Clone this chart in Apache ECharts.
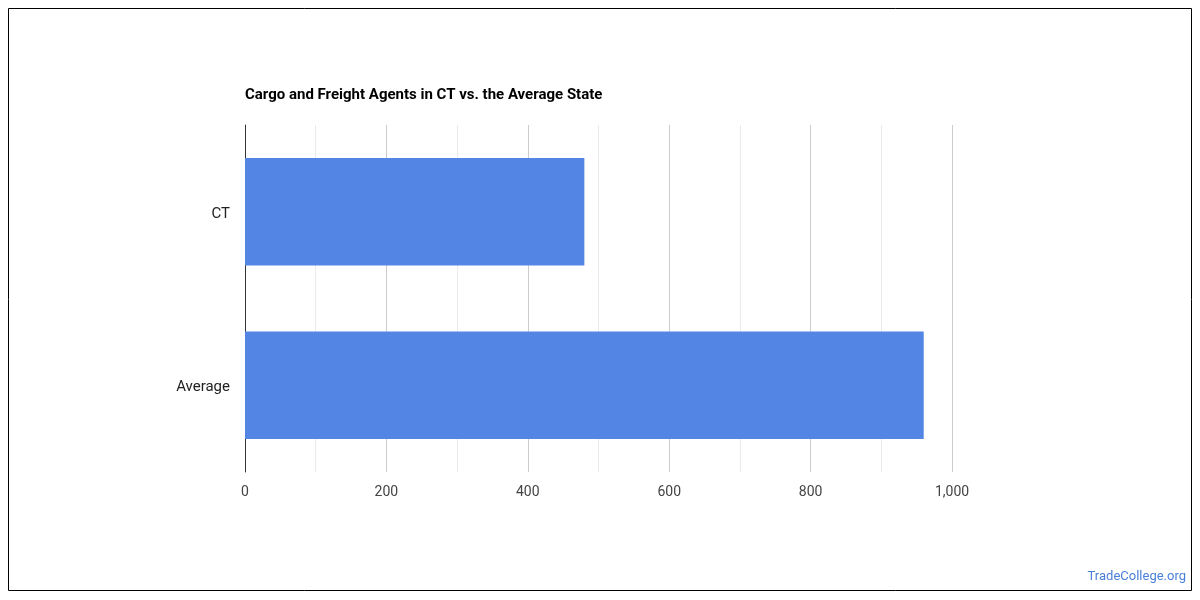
<!DOCTYPE html>
<html><head><meta charset="utf-8">
<script src="https://cdn.jsdelivr.net/npm/echarts@6/dist/echarts.min.js"></script>
<style>html,body{margin:0;padding:0;background:#fff}#c{width:1200px;height:600px}</style>
</head><body><div id="c"></div>
<script>
const categories = ['CT', 'Average'];
const values = [480, 960];
const titleText = 'Cargo and Freight Agents in CT vs. the Average State';

const chart = echarts.init(document.getElementById('c'), null, {renderer: 'canvas'});
chart.setOption({
  animation: false,
  backgroundColor: '#fff',
  textStyle: {fontFamily: 'Roboto'},
  title: {text: titleText, left: 240, top: 83,
    textStyle: {fontFamily: 'Roboto', fontSize: 15, fontWeight: 'bold', color: '#000'}},
  graphic: [
    {type: 'rect', shape: {x: 8.5, y: 8.5, width: 1183, height: 582}, style: {fill: 'none', stroke: '#000', lineWidth: 1}, silent: true},
    {type: 'text', right: 14, top: 570, style: {text: 'TradeCollege.org', fill: '#4a80d8', font: '13px Roboto'}}
  ],
  grid: {left: 245, right: 248, top: 125, bottom: 128, containLabel: false},
  xAxis: {
    type: 'value', min: 0, max: 1000, interval: 200,
    axisLine: {show: false}, axisTick: {show: false},
    axisLabel: {color: '#444', fontSize: 14, margin: 13, fontFamily: 'Roboto',
      formatter: v => v.toLocaleString('en-US')},
    splitLine: {show: true, lineStyle: {color: '#cccccc', width: 1}},
    minorTick: {show: false, splitNumber: 2},
    minorSplitLine: {show: true, lineStyle: {color: '#ebebeb', width: 1}}
  },
  yAxis: {
    type: 'category', data: categories, inverse: true,
    axisLine: {show: true, lineStyle: {color: '#333', width: 1}},
    axisTick: {show: false},
    axisLabel: {color: '#222', fontSize: 15, margin: 15, fontFamily: 'Roboto',
      formatter: '{a|{value}}',
      rich: {a: {color: '#222', fontSize: 15, fontFamily: 'Roboto', padding: [4, 0, 0, 0]}}}
  },
  series: [{
    type: 'bar', data: values, barWidth: '62%',
    itemStyle: {color: '#5386e4'}
  }]
});
</script></body></html>
